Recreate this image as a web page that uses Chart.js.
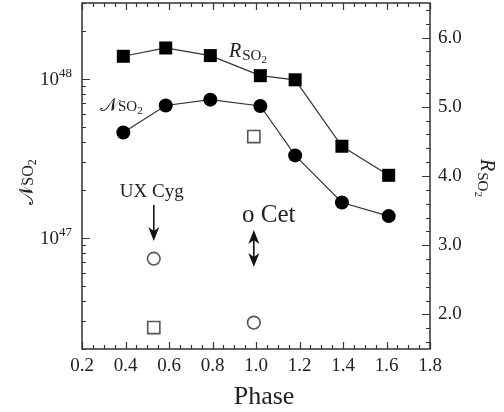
<!DOCTYPE html>
<html><head><meta charset="utf-8">
<script src="https://cdn.jsdelivr.net/npm/chart.js@4/dist/chart.umd.min.js"></script>
<style>html,body{margin:0;padding:0;background:#fff}#wrap{width:504px;height:412px;position:relative}</style>
</head><body><div id="wrap"><canvas id="c" width="504" height="412"></canvas></div>
<script>
// ---- data ----
const phases = [0.39, 0.585, 0.79, 1.02, 1.18, 1.395, 1.61];
const nSO2 = [4.6e47, 6.8e47, 7.4e47, 6.75e47, 3.3e47, 1.67e47, 1.37e47];
const rSO2 = [5.73, 5.85, 5.74, 5.45, 5.39, 4.43, 4.01];
const uxCygPhase = [0.53];
const uxCygN = [7.4e46];
const uxCygR = [1.81];
const oCetPhase = [0.99];
const oCetN = [2.93e46];
const oCetR = [4.57];
const xTicks = [0.2, 0.4, 0.6, 0.8, 1.0, 1.2, 1.4, 1.6, 1.8];
const rTicks = [2.0, 3.0, 4.0, 5.0, 6.0];
const nTickExps = [47, 48];
const labels = {xTitle: 'Phase', ux: 'UX Cyg', ocet: 'o Cet', N: '\u{1D4A9}', R: 'R', so: 'SO', two: '2'};

const SERIF = '"Liberation Serif", "DejaVu Serif", serif';
const INK = '#222';

function pts(xs, ys) { return xs.map((x, i) => ({x: x, y: ys[i]})); }

function drawRich(ctx, parts, x, y) {
  let cx = x;
  for (const p of parts) {
    ctx.font = p.font;
    ctx.fillText(p.t, cx, y + (p.dy || 0));
    cx += ctx.measureText(p.t).width + (p.gap || 0);
  }
  return cx - x;
}
function richWidth(ctx, parts) {
  let w = 0;
  for (const p of parts) { ctx.font = p.font; w += ctx.measureText(p.t).width + (p.gap || 0); }
  return w;
}
function arrowHead(ctx, x, y, dir) {
  ctx.beginPath();
  ctx.moveTo(x, y);
  ctx.lineTo(x - 5.5, y - dir * 14);
  ctx.lineTo(x, y - dir * 10);
  ctx.lineTo(x + 5.5, y - dir * 14);
  ctx.closePath();
  ctx.fill();
}
function noPad(s) { s.paddingTop = 0; s.paddingBottom = 0; s.paddingLeft = 0; s.paddingRight = 0; }

const decor = {
  id: 'decor',
  afterDraw(chart) {
    const ctx = chart.ctx;
    const a = chart.chartArea;
    const xs = chart.scales.x, yN = chart.scales.yN, yR = chart.scales.yR;
    ctx.save();
    ctx.strokeStyle = '#333';
    ctx.fillStyle = INK;
    ctx.lineWidth = 1.5;
    ctx.strokeRect(a.left, a.top, a.right - a.left, a.bottom - a.top);
    ctx.lineWidth = 1.2;
    ctx.beginPath();
    for (let k = 0; k <= 32; k++) {
      const v = 0.2 + k * 0.05;
      const px = Math.round(xs.getPixelForValue(v)) + 0.5;
      const len = (k % 4 === 0) ? 7 : 4;
      ctx.moveTo(px, a.bottom); ctx.lineTo(px, a.bottom - len);
      ctx.moveTo(px, a.top); ctx.lineTo(px, a.top + len);
    }
    for (let e = 46; e <= 48; e++) {
      for (let m = 1; m <= 9; m++) {
        const v = m * Math.pow(10, e);
        if (v < yN.min || v > yN.max) continue;
        const py = Math.round(yN.getPixelForValue(v)) + 0.5;
        const len = (m === 1) ? 8 : 4;
        ctx.moveTo(a.left, py); ctx.lineTo(a.left + len, py);
      }
    }
    for (let k = 0; k <= 24; k++) {
      const v = 1.6 + k * 0.2;
      const py = Math.round(yR.getPixelForValue(v)) + 0.5;
      const major = Math.abs(v - Math.round(v)) < 1e-6;
      const len = major ? 8 : 4;
      ctx.moveTo(a.right, py); ctx.lineTo(a.right - len, py);
    }
    ctx.stroke();

    ctx.textBaseline = 'alphabetic';
    ctx.textAlign = 'left';
    for (const e of nTickExps) {
      const py = yN.getPixelForValue(Math.pow(10, e));
      const parts = [{t: '10', font: '19px ' + SERIF}, {t: String(e), font: '13px ' + SERIF, dy: -8}];
      const w = richWidth(ctx, parts);
      drawRich(ctx, parts, 72 - w, py + 6);
    }

    ctx.font = '26px ' + SERIF;
    ctx.textAlign = 'center';
    ctx.fillText(labels.xTitle, 264, 404);
    ctx.textAlign = 'left';

    const nParts = (big, small, sub) => [
      {t: labels.N, font: big + 'px "DejaVu Serif", ' + SERIF, gap: 0},
      {t: labels.so, font: small + 'px ' + SERIF},
      {t: labels.two, font: sub + 'px ' + SERIF, dy: 3}
    ];
    const rParts = (big, small, sub) => [
      {t: labels.R, font: 'italic ' + big + 'px ' + SERIF, gap: 1},
      {t: labels.so, font: small + 'px ' + SERIF, dy: 3},
      {t: labels.two, font: sub + 'px ' + SERIF, dy: 6}
    ];

    ctx.save();
    ctx.translate(33, 182);
    ctx.rotate(-Math.PI / 2);
    let p = nParts(20, 16, 12);
    let w = richWidth(ctx, p);
    drawRich(ctx, p, -w / 2, 0);
    ctx.restore();

    ctx.save();
    ctx.translate(481, 178);
    ctx.rotate(Math.PI / 2);
    p = rParts(20, 15, 11);
    w = richWidth(ctx, p);
    drawRich(ctx, p, -w / 2, 0);
    ctx.restore();

    drawRich(ctx, rParts(20, 15, 11), 229, 57);
    drawRich(ctx, nParts(19, 15, 11), 100, 111);

    ctx.font = '19px ' + SERIF;
    ctx.textAlign = 'center';
    const uxX = xs.getPixelForValue(uxCygPhase[0]);
    ctx.fillText(labels.ux, uxX - 2, 197);
    ctx.font = '25px ' + SERIF;
    const ocX = xs.getPixelForValue(oCetPhase[0]);
    ctx.fillText(labels.ocet, ocX + 15, 222);
    ctx.textAlign = 'left';

    ctx.strokeStyle = '#111';
    ctx.fillStyle = '#111';
    ctx.lineWidth = 1.6;
    ctx.beginPath();
    ctx.moveTo(uxX, 205); ctx.lineTo(uxX, 232);
    ctx.stroke();
    arrowHead(ctx, uxX, 241, 1);
    const dx = ocX;
    ctx.beginPath();
    ctx.moveTo(dx, 238); ctx.lineTo(dx, 259);
    ctx.stroke();
    arrowHead(ctx, dx, 230, -1);
    arrowHead(ctx, dx, 267, 1);
    ctx.restore();
  }
};

new Chart(document.getElementById('c'), {
  type: 'line',
  data: {
    datasets: [
      {label: 'R_SO2', data: pts(phases, rSO2), yAxisID: 'yR', borderColor: '#333', borderWidth: 1.2,
       pointStyle: 'rect', pointRadius: 9.2, pointBackgroundColor: '#000', pointBorderColor: '#000', pointBorderWidth: 0, tension: 0},
      {label: 'N_SO2', data: pts(phases, nSO2), yAxisID: 'yN', borderColor: '#333', borderWidth: 1.2,
       pointStyle: 'circle', pointRadius: 7, pointBackgroundColor: '#000', pointBorderColor: '#000', pointBorderWidth: 0, tension: 0},
      {label: 'UX Cyg N', data: pts(uxCygPhase, uxCygN), yAxisID: 'yN', showLine: false,
       pointStyle: 'circle', pointRadius: 6.3, pointBackgroundColor: '#fff', pointBorderColor: '#555', pointBorderWidth: 1.6},
      {label: 'o Cet N', data: pts(oCetPhase, oCetN), yAxisID: 'yN', showLine: false,
       pointStyle: 'circle', pointRadius: 6.3, pointBackgroundColor: '#fff', pointBorderColor: '#555', pointBorderWidth: 1.6},
      {label: 'UX Cyg R', data: pts(uxCygPhase, uxCygR), yAxisID: 'yR', showLine: false,
       pointStyle: 'rect', pointRadius: 8.6, pointBackgroundColor: '#fff', pointBorderColor: '#555', pointBorderWidth: 1.6},
      {label: 'o Cet R', data: pts(oCetPhase, oCetR), yAxisID: 'yR', showLine: false,
       pointStyle: 'rect', pointRadius: 8.6, pointBackgroundColor: '#fff', pointBorderColor: '#555', pointBorderWidth: 1.6}
    ]
  },
  options: {
    responsive: false, animation: false, devicePixelRatio: 1,
    layout: {autoPadding: false, padding: {top: 3, left: 0, right: 0, bottom: 0}},
    plugins: {legend: {display: false}, tooltip: {enabled: false}},
    scales: {
      x: {
        type: 'linear', position: 'bottom', min: 0.2, max: 1.8,
        afterBuildTicks: s => { s.ticks = xTicks.map(v => ({value: v})); },
        afterFit: s => { s.height = 63; noPad(s); },
        ticks: {callback: v => Number(v).toFixed(1), font: {family: SERIF, size: 19}, color: INK, padding: 6, maxRotation: 0, autoSkip: false},
        grid: {display: false, drawTicks: false}, border: {display: false}
      },
      yN: {
        type: 'logarithmic', position: 'left', min: 2e46, max: 3e48,
        afterFit: s => { s.width = 82; noPad(s); },
        ticks: {display: false},
        grid: {display: false, drawTicks: false}, border: {display: false}
      },
      yR: {
        type: 'linear', position: 'right', min: 1.5, max: 6.5,
        afterBuildTicks: s => { s.ticks = rTicks.map(v => ({value: v})); },
        afterFit: s => { s.width = 74; noPad(s); },
        ticks: {callback: v => Number(v).toFixed(1), font: {family: SERIF, size: 19}, color: INK, padding: 8},
        grid: {display: false, drawTicks: false}, border: {display: false}
      }
    }
  },
  plugins: [decor]
});
</script>
</body></html>
